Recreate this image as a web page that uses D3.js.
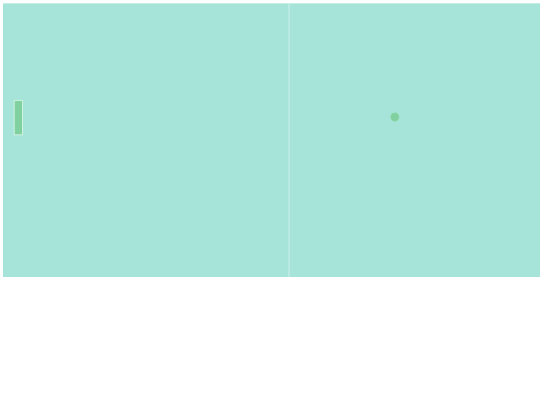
<!DOCTYPE html>
<html>
<head>
<meta charset="utf-8">
<script src="https://cdn.jsdelivr.net/npm/d3@7"></script>
<style>
  body { margin: 0; background: #fff; overflow: hidden; }
</style>
</head>
<body>
<div id="game"></div>
<script>
// court in normalised units (0..1)
var court = [0, 1];
var netX = [0.5];
var paddles = [{x: 0.0196, y: 0.356, w: 0.0145, h: 0.125}];
var balls = [{x: 0.685, y: 0.416}];

var margin = {top: 3, left: 3},
    courtW = 572,
    courtH = 274;

var svg = d3.select("#game")
    .append("svg")
        .attr("width", 540)
        .attr("height", 405)
    .append("g")
        .attr("transform", "translate(" + margin.left + "," + margin.top + ")");

var x = d3.scaleLinear().domain(court).range([0, courtW]);
var y = d3.scaleLinear().domain(court).range([0, courtH]);

// court
svg.append("rect")
    .attr("x", x(0))
    .attr("y", y(0))
    .attr("width", x(1) - x(0))
    .attr("height", y(1) - y(0))
    .attr("fill", "#a6e3d8");

// top edge highlight
svg.append("line")
    .attr("x1", x(0)).attr("x2", x(1))
    .attr("y1", y(0) + 0.5).attr("y2", y(0) + 0.5)
    .attr("stroke", "#c4ede4")
    .attr("stroke-width", 1);

// net
svg.selectAll(".net")
    .data(netX)
    .enter()
    .append("line")
        .attr("class", "net")
        .attr("x1", function(d) { return x(d); })
        .attr("x2", function(d) { return x(d); })
        .attr("y1", y(0))
        .attr("y2", y(1))
        .attr("stroke", "#cdf1ea")
        .attr("stroke-width", 1);

// paddles
svg.selectAll(".paddle")
    .data(paddles)
    .enter()
    .append("rect")
        .attr("class", "paddle")
        .attr("x", function(d) { return x(d.x); })
        .attr("y", function(d) { return y(d.y); })
        .attr("width", function(d) { return x(d.w) - x(0); })
        .attr("height", function(d) { return y(d.h) - y(0); })
        .attr("fill", "#80d0a0")
        .attr("stroke", "#cdf3dc")
        .attr("stroke-width", 1);

// ball
svg.selectAll(".ball")
    .data(balls)
    .enter()
    .append("circle")
        .attr("class", "ball")
        .attr("cx", function(d) { return x(d.x); })
        .attr("cy", function(d) { return y(d.y); })
        .attr("r", 4.5)
        .attr("fill", "#80d0a0")
        .attr("stroke", "#a9e6c8")
        .attr("stroke-width", 0.5);
</script>
</body>
</html>
